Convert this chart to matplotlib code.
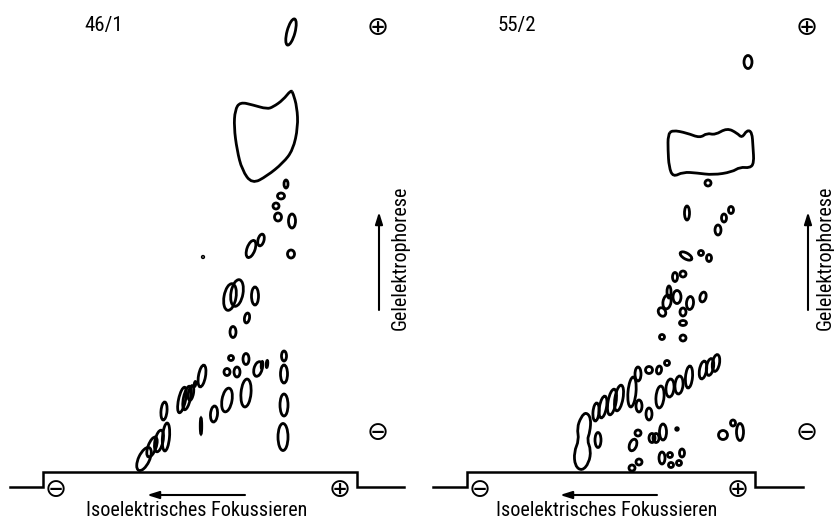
import numpy as np
import matplotlib
matplotlib.use('Agg')
import matplotlib.pyplot as plt
from matplotlib import font_manager
from matplotlib.patches import Ellipse, PathPatch
from matplotlib.path import Path

# condensed face, close to the DIN lettering of the original
avail = {f.name for f in font_manager.fontManager.ttflist}
cond = next((n for n in ['Roboto Condensed', 'Barlow Condensed', 'Sofia Sans Condensed',
                         'Encode Sans Semi Condensed'] if n in avail), 'DejaVu Sans')

# ---- gel 46/1 (left) : spots as x, y, width, height, lean (deg)
l_x    = [291, 286, 281, 276, 278, 292, 251, 261, 291, 230, 237, 255, 247, 233, 203,
          284, 284, 284, 283, 227, 231, 237, 246, 258, 262, 267, 246, 227, 214, 201,
          202, 182, 187, 191, 195, 164, 166, 159, 152, 144]
l_y    = [32, 184, 196, 206, 217, 221, 249, 240, 254, 297, 293, 296, 318, 332, 257,
          356, 374, 405, 437, 372, 358, 372, 359, 369, 365, 364, 393, 400, 414, 426,
          376, 400, 398, 393, 384, 411, 437, 441, 447, 459]
l_w    = [8, 4, 7, 6, 7, 7, 8, 6, 7, 12, 12, 7, 5, 6, 1.5,
          5, 7, 8, 10, 6, 5, 6, 6, 8, 1.5, 1.5, 10, 10, 7, 1.5,
          7, 7, 7, 5, 1.5, 6, 7, 8, 8, 11]
l_h    = [27, 8, 6, 6, 8, 14, 18, 12, 8, 27, 27, 18, 10, 11, 1.5,
          10, 18, 22, 27, 7, 5, 10, 11, 15, 7, 7, 28, 24, 16, 16,
          22, 26, 24, 15, 5, 18, 28, 22, 21, 25]
l_lean = [15, 0, 0, 0, 0, 0, 20, 15, 0, 10, 10, 0, 10, 0, 0,
          0, 0, 0, 0, 0, 0, 0, 0, 15, 5, 5, 5, 10, 5, 0,
          10, 12, 12, 10, 10, 5, 5, 12, 20, 25]
l_blob_x = [291, 283, 273, 267, 253, 240, 235, 234, 237, 242, 252, 267, 283, 293, 298, 297, 293]
l_blob_y = [90, 100, 107, 109, 105, 102, 110, 127, 150, 170, 184, 176, 163, 150, 127, 107, 93]

# ---- gel 55/2 (right)
r_x    = [748, 708, 687, 718, 724, 731, 686, 701, 709, 675, 683, 669, 667, 677, 662,
          683, 690, 703, 683, 662, 683, 716, 710, 703, 689, 679, 670, 660, 649, 639,
          632, 638, 649, 659, 667, 619, 612, 603, 596, 598, 633, 638, 652, 656, 663,
          639, 632, 662, 670, 671, 682, 679, 723, 733, 740]
r_y    = [62, 183, 213, 230, 218, 210, 256, 253, 258, 277, 274, 292, 302, 297, 312,
          312, 303, 297, 323, 337, 338, 363, 367, 370, 377, 385, 388, 397, 414, 406,
          392, 374, 370, 370, 363, 398, 402, 407, 412, 440, 445, 433, 438, 438, 432,
          462, 468, 458, 455, 465, 453, 463, 435, 423, 432]
r_w    = [8, 6, 5, 6, 5, 5, 13, 5, 5, 5, 6, 4, 8, 8, 7,
          6, 7, 6, 7, 5, 6, 7, 7, 7, 7, 8, 8, 8, 6, 6,
          8, 6, 7, 5, 5, 8, 8, 7, 6, 6, 7, 6, 6, 6, 7,
          6, 6, 6, 5, 5, 5, 5, 9, 5, 7]
r_h    = [13, 6, 14, 10, 8, 7, 6, 5, 7, 9, 6, 12, 14, 13, 9,
          8, 13, 10, 5, 5, 6, 17, 17, 18, 22, 18, 18, 22, 12, 12,
          30, 14, 7, 8, 5, 26, 26, 22, 18, 15, 12, 6, 9, 9, 16,
          6, 6, 12, 5, 5, 8, 5, 9, 6, 17]
r_lean = [0, 0, 0, 0, 0, 0, 30, 0, 0, 0, 0, 0, 10, 0, -30,
          0, 5, 15, 0, 0, 0, 10, 10, 10, 5, 5, 5, 5, 0, 0,
          5, 0, 0, 10, 0, 10, 10, 10, 5, 0, 20, 0, 0, 0, 0,
          0, 0, 0, 0, 0, 0, 0, 0, 0, 0]
r_dot = (677, 429)
r_blob_x = [672, 687, 700, 707, 715, 727, 737, 742, 747, 752, 753, 754, 750, 740, 732,
            713, 697, 683, 673, 669, 668, 668]
r_blob_y = [130, 133, 138, 133, 135, 128, 133, 138, 130, 132, 147, 163, 168, 167, 172,
            175, 173, 172, 177, 167, 150, 135]
r_s_x = [586, 591, 590, 587, 591, 589, 582, 575, 574, 579, 577, 581]
r_s_y = [412, 418, 432, 440, 450, 463, 471, 466, 452, 440, 428, 417]

# ---- frames (IEF strip outline), labels
frames = [([10, 43, 43, 357, 357, 404], [487, 487, 472, 472, 487, 487]),
          ([433, 467, 467, 755, 755, 803], [487, 487, 472, 472, 487, 487])]
names = [('46/1', 104), ('55/2', 517)]
minus_ief = [56, 480]
plus_ief = [340, 738]
side_x = [378, 807]
vtext_x = [400, 825]
ief_arrow = [(245, 147), (657, 560)]
ief_text_x = [197, 607]

LW = 2.0


def blob(ax, xs, ys):
    # closed quadratic b-spline through the traced outline
    p = np.column_stack([xs, ys]).astype(float)
    n = len(p)
    mids = (p + np.roll(p, -1, axis=0)) / 2
    verts = [mids[-1]]
    codes = [Path.MOVETO]
    for i in range(n):
        verts += [p[i], mids[i]]
        codes += [Path.CURVE3, Path.CURVE3]
    ax.add_patch(PathPatch(Path(verts, codes), fill=False, lw=LW, ec='black'))


fig = plt.figure(figsize=(8.34, 5.21), dpi=100)
ax = fig.add_axes([0, 0, 1, 1])
ax.set_xlim(0, 834)
ax.set_ylim(521, 0)
ax.axis('off')

for xs, ys, ws, hs, ls in [(l_x, l_y, l_w, l_h, l_lean), (r_x, r_y, r_w, r_h, r_lean)]:
    for x, y, w, h, a in zip(xs, ys, ws, hs, ls):
        ax.add_patch(Ellipse((x, y), w, h, angle=a, fill=False, lw=LW, ec='black'))
ax.add_patch(Ellipse(r_dot, 4, 4, fc='black', ec='black'))

blob(ax, l_blob_x, l_blob_y)
blob(ax, r_blob_x, r_blob_y)
blob(ax, r_s_x, r_s_y)

txt = dict(family=cond, ha='center', va='center')
sym = dict(fontsize=19, ha='center', va='center')
arr = dict(arrowstyle='-|>,head_length=0.7,head_width=0.22', lw=1.5, color='black',
           shrinkA=0, shrinkB=0)
for i in range(2):
    fx, fy = frames[i]
    ax.plot(fx, fy, color='black', lw=1.8, solid_joinstyle='miter')
    ax.text(names[i][1], 26, names[i][0], fontsize=15, **txt)
    ax.text(minus_ief[i], 490, '\u2296', **sym)
    ax.text(plus_ief[i], 490, '\u2295', **sym)
    ax.text(side_x[i], 28, '\u2295', **sym)
    ax.text(side_x[i], 433, '\u2296', **sym)
    ax.annotate('', xy=(side_x[i] + 1, 212), xytext=(side_x[i] + 1, 310), arrowprops=arr)
    ax.text(vtext_x[i], 258, 'Gelelektrophorese', rotation=90, fontsize=14.5, **txt)
    a0, a1 = ief_arrow[i]
    ax.annotate('', xy=(a1, 495), xytext=(a0, 495), arrowprops=arr)
    ax.text(ief_text_x[i], 510, 'Isoelektrisches Fokussieren', fontsize=14.5, **txt)

plt.savefig('out.png', dpi=100)
plt.close()
